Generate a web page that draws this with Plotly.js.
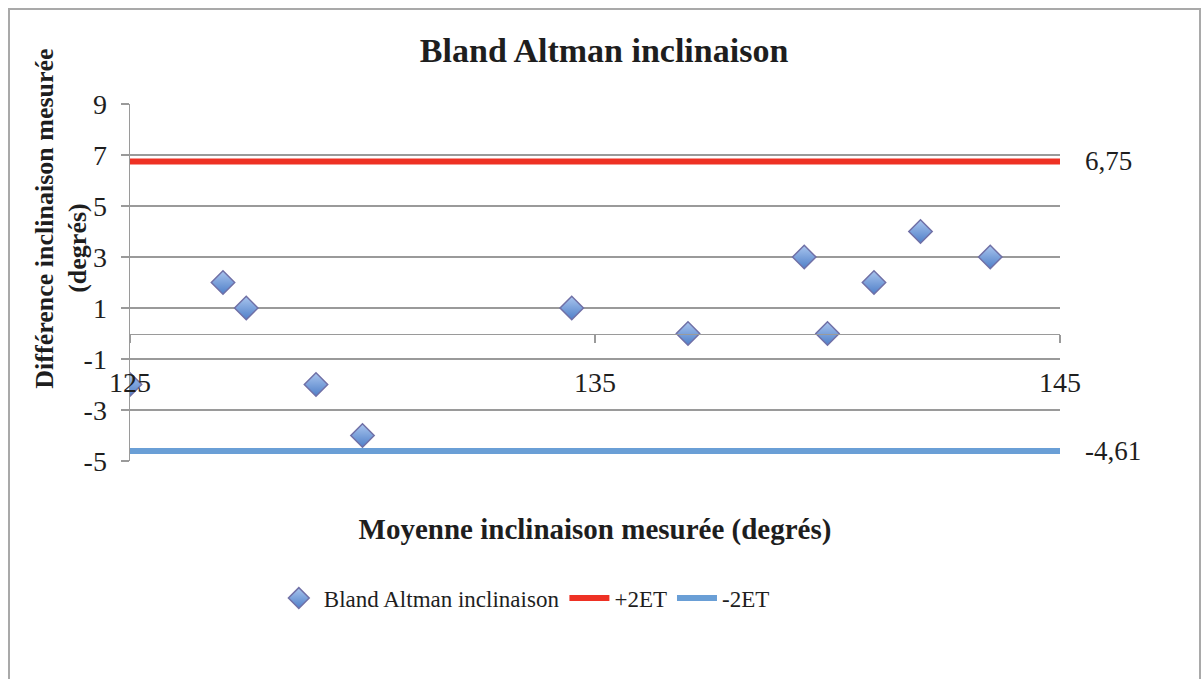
<!DOCTYPE html>
<html>
<head>
<meta charset="utf-8">
<script src="https://cdn.plot.ly/plotly-3.0.1.min.js"></script>
<style>
  html, body { margin: 0; padding: 0; background: #fff; }
  #wrap { position: relative; width: 1201px; height: 679px; overflow: hidden; }
  #chart { width: 1201px; height: 679px; }
  #frame { position: absolute; left: 8px; top: 8px; width: 1193px; height: 720px;
           border: 2px solid #a9a9a9; pointer-events: none; box-sizing: border-box; }
</style>
</head>
<body>
<div id="wrap"><div id="chart"></div><div id="frame"></div></div>
<script>
// Data
const meanValues = [125, 127, 127.5, 129, 130, 134.5, 137, 139.5, 140, 141, 142, 143.5];
const diffValues = [-2, 2, 1, -2, -4, 1, 0, 3, 0, 2, 4, 3];
const xRange = [125, 145];
const upperLimit = 6.75;   // +2ET
const lowerLimit = -4.61;  // -2ET
const upperLabel = "6,75";
const lowerLabel = "-4,61";
const xTicks = [125, 135, 145];
const yTicks = [-5, -3, -1, 1, 3, 5, 7, 9];
const yTickText = ["-5", "-3", "-1", "1", "3", "5", "7", "9"];
const seriesNames = ["Bland Altman inclinaison", "+2ET", "-2ET"];

const serif = "'Liberation Serif', 'DejaVu Serif', serif";
const grid = "#9a9a9a";
const ink = "#1e1e1e";

const traces = [
  {
    type: "scatter", mode: "markers", name: seriesNames[0],
    x: meanValues, y: diffValues,
    marker: { symbol: "diamond", size: 18, color: "#a9c5ee",
              gradient: { type: "vertical", color: "#4f7fc8" },
              line: { color: "#7070a6", width: 1.5 } }
  },
  {
    type: "scatter", mode: "lines", name: seriesNames[1],
    x: xRange, y: [upperLimit, upperLimit],
    line: { color: "#ee3124", width: 6 }
  },
  {
    type: "scatter", mode: "lines", name: seriesNames[2],
    x: xRange, y: [lowerLimit, lowerLimit],
    line: { color: "#6a9fd6", width: 6 }
  }
];

const layout = {
  width: 1201, height: 679,
  margin: { l: 130, r: 141, t: 104, b: 218 },
  paper_bgcolor: "#ffffff", plot_bgcolor: "#ffffff",
  font: { family: serif, color: ink, size: 24 },
  showlegend: true,
  title: { text: "<b>Bland Altman inclinaison</b>", font: { family: serif, size: 34, color: ink },
           x: 0.503, xanchor: "center", y: 0.926, yanchor: "middle" },
  xaxis: {
    range: xRange, anchor: "free", position: 5 / 14,
    tickmode: "array", tickvals: xTicks, ticktext: xTicks.map(String),
    showgrid: false, zeroline: false,
    showline: true, linecolor: grid, linewidth: 1.5,
    ticks: "outside", ticklen: 8, tickcolor: grid, tickwidth: 1.5,
    ticklabelstandoff: 15,
    tickfont: { family: serif, size: 28, color: ink },
    title: { text: "<b>Moyenne inclinaison mesurée (degrés)</b>", standoff: 122,
             font: { family: serif, size: 29, color: ink } }
  },
  yaxis: {
    range: [-5, 9], tickmode: "array", tickvals: yTicks, ticktext: yTickText,
    showgrid: true, gridcolor: grid, gridwidth: 1.5,
    zeroline: false,
    showline: true, linecolor: grid, linewidth: 1.5,
    ticks: "outside", ticklen: 8, tickcolor: grid, tickwidth: 1.5,
    ticklabelstandoff: 8,
    tickfont: { family: serif, size: 28, color: ink }
  },
  legend: {
    orientation: "h", x: 0.424, xanchor: "center", y: -0.384, yanchor: "middle",
    itemwidth: 40,
    font: { family: serif, size: 23, color: ink }, bgcolor: "rgba(0,0,0,0)"
  },
  annotations: [
    { xref: "paper", x: 1.025, xanchor: "left", yref: "y", y: upperLimit, yanchor: "middle",
      text: upperLabel, showarrow: false, font: { family: serif, size: 27, color: ink } },
    { xref: "paper", x: 1.025, xanchor: "left", yref: "y", y: lowerLimit, yanchor: "middle",
      text: lowerLabel, showarrow: false, font: { family: serif, size: 27, color: ink } },
    { xref: "paper", x: -0.092, xanchor: "center", yref: "paper", y: 0.68, yanchor: "middle",
      textangle: -90, text: "<b>Différence inclinaison mesurée</b>", showarrow: false,
      font: { family: serif, size: 26, color: ink } },
    { xref: "paper", x: -0.056, xanchor: "center", yref: "paper", y: 0.597, yanchor: "middle",
      textangle: -90, text: "<b>(degrés)</b>", showarrow: false,
      font: { family: serif, size: 26, color: ink } }
  ]
};

Plotly.newPlot("chart", traces, layout, { displayModeBar: false, staticPlot: true });
</script>
</body>
</html>
